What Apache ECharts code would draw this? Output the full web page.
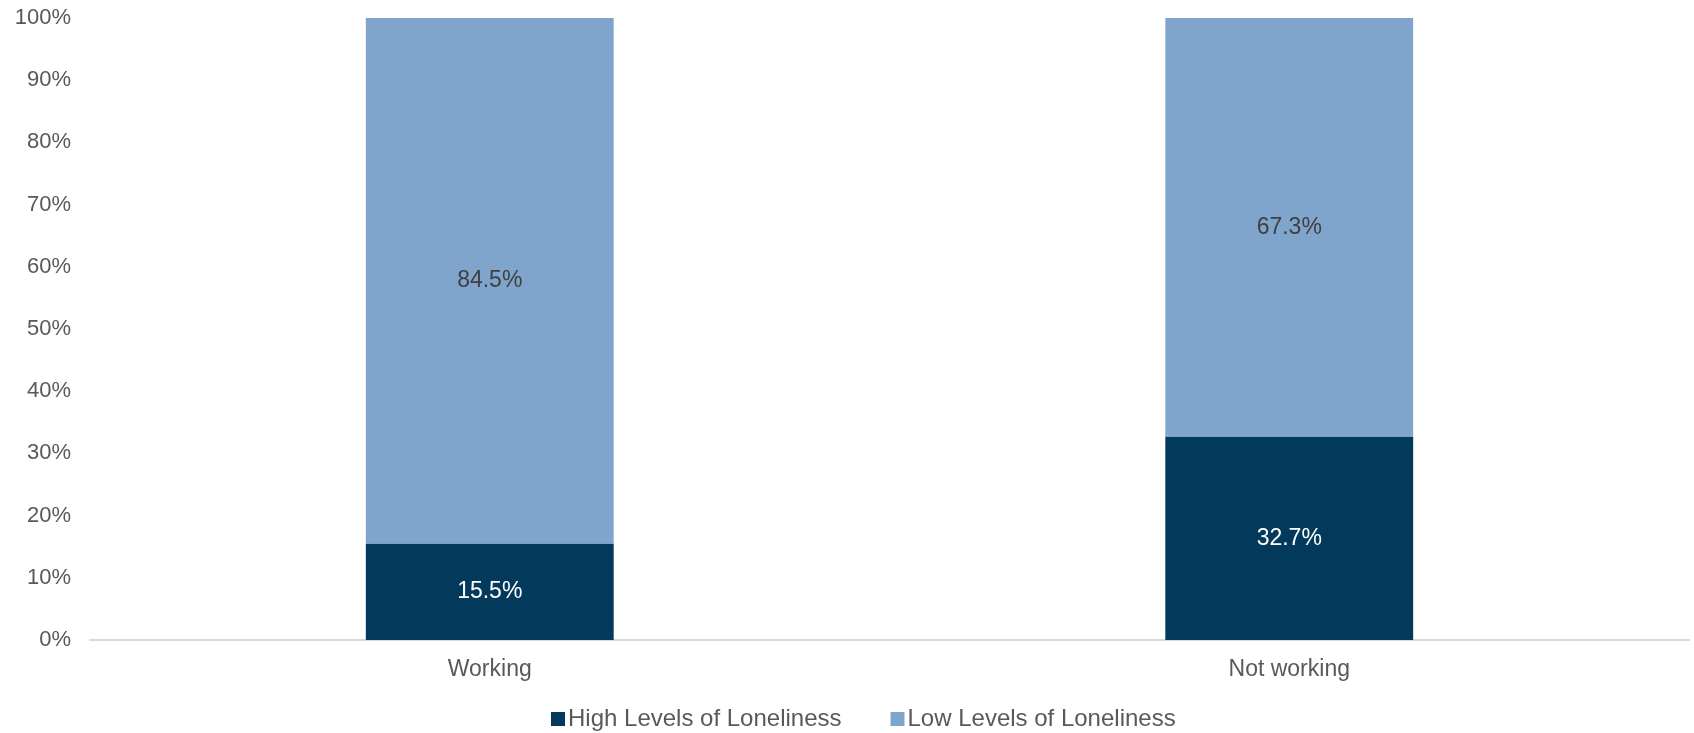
<!DOCTYPE html>
<html>
<head>
<meta charset="utf-8">
<script src="https://cdn.jsdelivr.net/npm/echarts@6/dist/echarts.min.js"></script>
<style>
  html, body { margin: 0; padding: 0; background: #fff; }
  #chart { width: 1694px; height: 733px; }
</style>
</head>
<body>
<div id="chart"></div>
<script>
var categories = ['Working', 'Not working'];
var highLoneliness = [15.5, 32.7];
var lowLoneliness = [84.5, 67.3];
var yTicks = [0, 10, 20, 30, 40, 50, 60, 70, 80, 90, 100];

var myChart = echarts.init(document.getElementById('chart'));
var fontFamily = '"Liberation Sans", Arial, sans-serif';

var option = {
    animation: false,
    textStyle: { fontFamily: fontFamily },
    grid: { left: 90, right: 5, top: 18, bottom: 93, containLabel: false },
    legend: {
        bottom: -3,
        left: 546,
        itemWidth: 14,
        itemHeight: 14,
        itemGap: 49,
        icon: 'rect',
        textStyle: { fontSize: 24, color: '#595959', fontFamily: fontFamily, padding: [0, 0, 0, -2] },
        data: ['High Levels of Loneliness', 'Low Levels of Loneliness']
    },
    xAxis: {
        type: 'category',
        data: categories,
        axisLine: { lineStyle: { color: '#d9d9d9', width: 2 } },
        axisTick: { show: false },
        axisLabel: { fontSize: 23, color: '#595959', margin: 18, fontFamily: fontFamily }
    },
    yAxis: {
        type: 'value',
        min: yTicks[0],
        max: yTicks[yTicks.length - 1],
        interval: 10,
        axisLine: { show: false },
        axisTick: { show: false },
        splitLine: { show: false },
        axisLabel: { fontSize: 22, color: '#595959', margin: 19, formatter: '{value}%', fontFamily: fontFamily }
    },
    series: [
        {
            name: 'High Levels of Loneliness',
            type: 'bar',
            stack: 'total',
            barWidth: '31%',
            data: highLoneliness,
            itemStyle: { color: '#03395a' },
            label: {
                show: true,
                position: 'inside',
                color: '#ffffff',
                fontSize: 23,
                fontFamily: fontFamily,
                formatter: function (p) { return p.value.toFixed(1) + '%'; }
            }
        },
        {
            name: 'Low Levels of Loneliness',
            type: 'bar',
            stack: 'total',
            barWidth: '31%',
            data: lowLoneliness,
            itemStyle: { color: '#7fa5cd' },
            label: {
                show: true,
                position: 'inside',
                color: '#404040',
                fontSize: 23,
                fontFamily: fontFamily,
                formatter: function (p) { return p.value.toFixed(1) + '%'; }
            }
        }
    ]
};

myChart.setOption(option);
</script>
</body>
</html>
